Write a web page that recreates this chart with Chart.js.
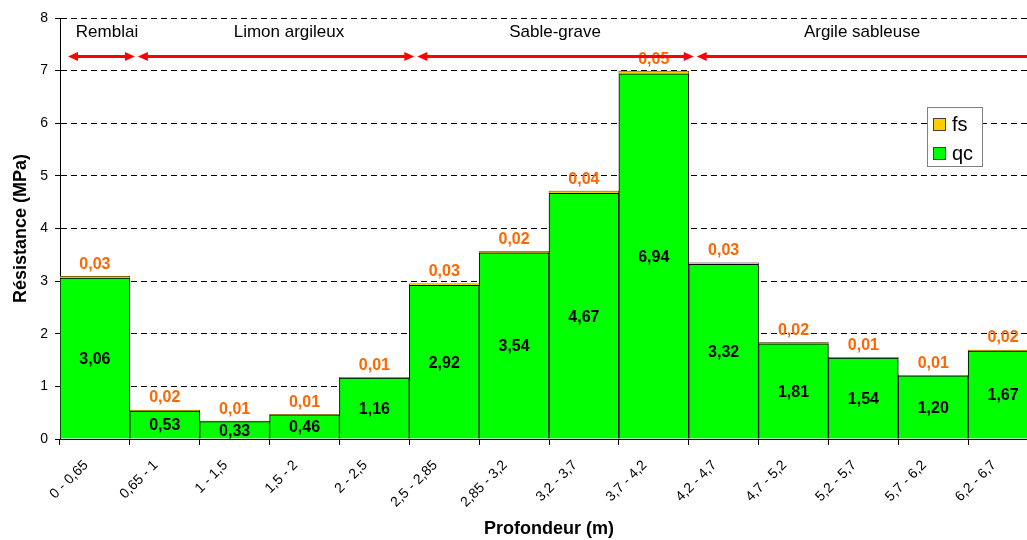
<!DOCTYPE html>
<html>
<head>
<meta charset="utf-8">
<script src="https://cdn.jsdelivr.net/npm/chart.js@4.4.1/dist/chart.umd.min.js"></script>
<style>
  body { margin: 0; overflow: hidden; background: #fff; }
</style>
</head>
<body>
<canvas id="profil" width="1040" height="540"></canvas>
<script>
const categories = ['0 - 0,65', '0,65 - 1', '1 - 1,5', '1,5 - 2', '2 - 2,5', '2,5 - 2,85', '2,85 - 3,2',
    '3,2 - 3,7', '3,7 - 4,2', '4,2 - 4,7', '4,7 - 5,2', '5,2 - 5,7', '5,7 - 6,2', '6,2 - 6,7'];
const qc = [3.06, 0.53, 0.33, 0.46, 1.16, 2.92, 3.54, 4.67, 6.94, 3.32, 1.81, 1.54, 1.20, 1.67];
const fs = [0.03, 0.02, 0.01, 0.01, 0.01, 0.03, 0.02, 0.04, 0.05, 0.03, 0.02, 0.01, 0.01, 0.02];

const zoneNames = ['Remblai', 'Limon argileux', 'Sable-grave', 'Argile sableuse'];
const zoneStart = [0, 1, 5, 9];
const zoneEnd = [0, 4, 8, 13];

const FONT = '"Liberation Sans", Arial, sans-serif';

function fmt(v) {
    return v.toFixed(2).replace('.', ',');
}

function arrow(ctx, x1, x2, y) {
    const head = 10, half = 4.5;
    ctx.beginPath();
    ctx.moveTo(x1 + head - 1, y);
    ctx.lineTo(x2 - head + 1, y);
    ctx.stroke();
    ctx.beginPath();
    ctx.moveTo(x1, y);
    ctx.lineTo(x1 + head, y - half);
    ctx.lineTo(x1 + head, y + half);
    ctx.closePath();
    ctx.fill();
    ctx.beginPath();
    ctx.moveTo(x2, y);
    ctx.lineTo(x2 - head, y - half);
    ctx.lineTo(x2 - head, y + half);
    ctx.closePath();
    ctx.fill();
}

const extras = {
    id: 'extras',
    afterDatasetsDraw(chart) {
        const ctx = chart.ctx;
        const x = chart.scales.x, y = chart.scales.y;
        const half = (x.getPixelForValue(1) - x.getPixelForValue(0)) / 2;
        ctx.save();

        // valeurs
        ctx.textAlign = 'center';
        ctx.textBaseline = 'middle';
        ctx.font = 'bold 16px ' + FONT;
        qc.forEach((v, i) => {
            const cx = x.getPixelForValue(i);
            ctx.fillStyle = '#000';
            ctx.fillText(fmt(v), cx, y.getPixelForValue(v / 2) + 1);
            ctx.fillStyle = '#FF6600';
            ctx.fillText(fmt(fs[i]), cx, y.getPixelForValue(v + fs[i]) - 12);
        });

        // zones
        ctx.strokeStyle = '#FF0000';
        ctx.fillStyle = '#FF0000';
        ctx.lineWidth = 3;
        const ay = y.getPixelForValue(7.27);
        zoneNames.forEach((name, k) => {
            const x1 = x.getPixelForValue(zoneStart[k]) - half + 8;
            const x2 = x.getPixelForValue(zoneEnd[k]) + half + 5;
            arrow(ctx, x1, x2, ay);
        });
        ctx.fillStyle = '#000';
        ctx.font = '17px ' + FONT;
        zoneNames.forEach((name, k) => {
            const x1 = x.getPixelForValue(zoneStart[k]) - half;
            const x2 = x.getPixelForValue(zoneEnd[k]) + half;
            let cx = (x1 + x2) / 2 + 6;
            if (k === 0) cx = 107;
            if (k === 1) cx = 289;
            if (k === 3) cx = 862;
            ctx.fillText(name, cx, y.getPixelForValue(7.72));
        });

        // legende
        const lx = 927, ly = 107;
        ctx.fillStyle = '#fff';
        ctx.fillRect(lx, ly, 55, 59);
        ctx.strokeStyle = '#808080';
        ctx.lineWidth = 1;
        ctx.strokeRect(lx + 0.5, ly + 0.5, 55, 59);
        const items = [['fs', '#FFCC00'], ['qc', '#00FF00']];
        ctx.textAlign = 'left';
        ctx.font = '20px ' + FONT;
        items.forEach((it, k) => {
            const iy = ly + 17 + k * 29;
            ctx.fillStyle = it[1];
            ctx.fillRect(lx + 6, iy - 6, 13, 13);
            ctx.strokeStyle = '#404040';
            ctx.strokeRect(lx + 6.5, iy - 5.5, 12, 12);
            ctx.fillStyle = '#000';
            ctx.fillText(it[0], lx + 25, iy + 1);
        });
        ctx.restore();
    }
};

new Chart(document.getElementById('profil'), {
    type: 'bar',
    data: {
        labels: categories,
        datasets: [{
            label: 'qc',
            data: qc,
            backgroundColor: '#00FF00',
            borderColor: '#000',
            borderWidth: 1,
            barPercentage: 1,
            categoryPercentage: 1,
        }, {
            label: 'fs',
            data: fs,
            backgroundColor: '#FFCC00',
            borderColor: '#000',
            borderWidth: 0.5,
            barPercentage: 1,
            categoryPercentage: 1,
        }],
    },
    options: {
        responsive: false,
        animation: false,
        layout: { padding: { top: 18, right: 2, left: 0, bottom: 0 } },
        plugins: {
            legend: { display: false },
            tooltip: { enabled: false },
        },
        scales: {
            x: {
                stacked: true,
                grid: { offset: true, drawOnChartArea: false, color: '#000', tickLength: 6 },
                border: { color: '#000' },
                ticks: { color: '#000', minRotation: 45, maxRotation: 45, padding: 12, labelOffset: -9,
                    font: { family: FONT, size: 14 } },
                title: { display: true, text: 'Profondeur (m)', color: '#000',
                    font: { family: FONT, size: 18, weight: 'bold' }, padding: { top: 0, bottom: 0 } },
                afterFit: (s) => { s.height = 101; },
            },
            y: {
                stacked: true,
                min: 0,
                max: 8,
                ticks: { stepSize: 1, color: '#000', padding: 7, font: { family: FONT, size: 14 } },
                grid: { color: '#000', tickLength: 5, tickBorderDash: [] },
                border: { color: '#000', dash: [6, 4] },
                title: { display: true, text: 'Résistance (MPa)', color: '#000',
                    font: { family: FONT, size: 18, weight: 'bold' }, padding: { top: 10, bottom: 0 } },
                afterFit: (s) => { s.width = 60; },
            },
        },
    },
    plugins: [extras],
});
</script>
</body>
</html>
